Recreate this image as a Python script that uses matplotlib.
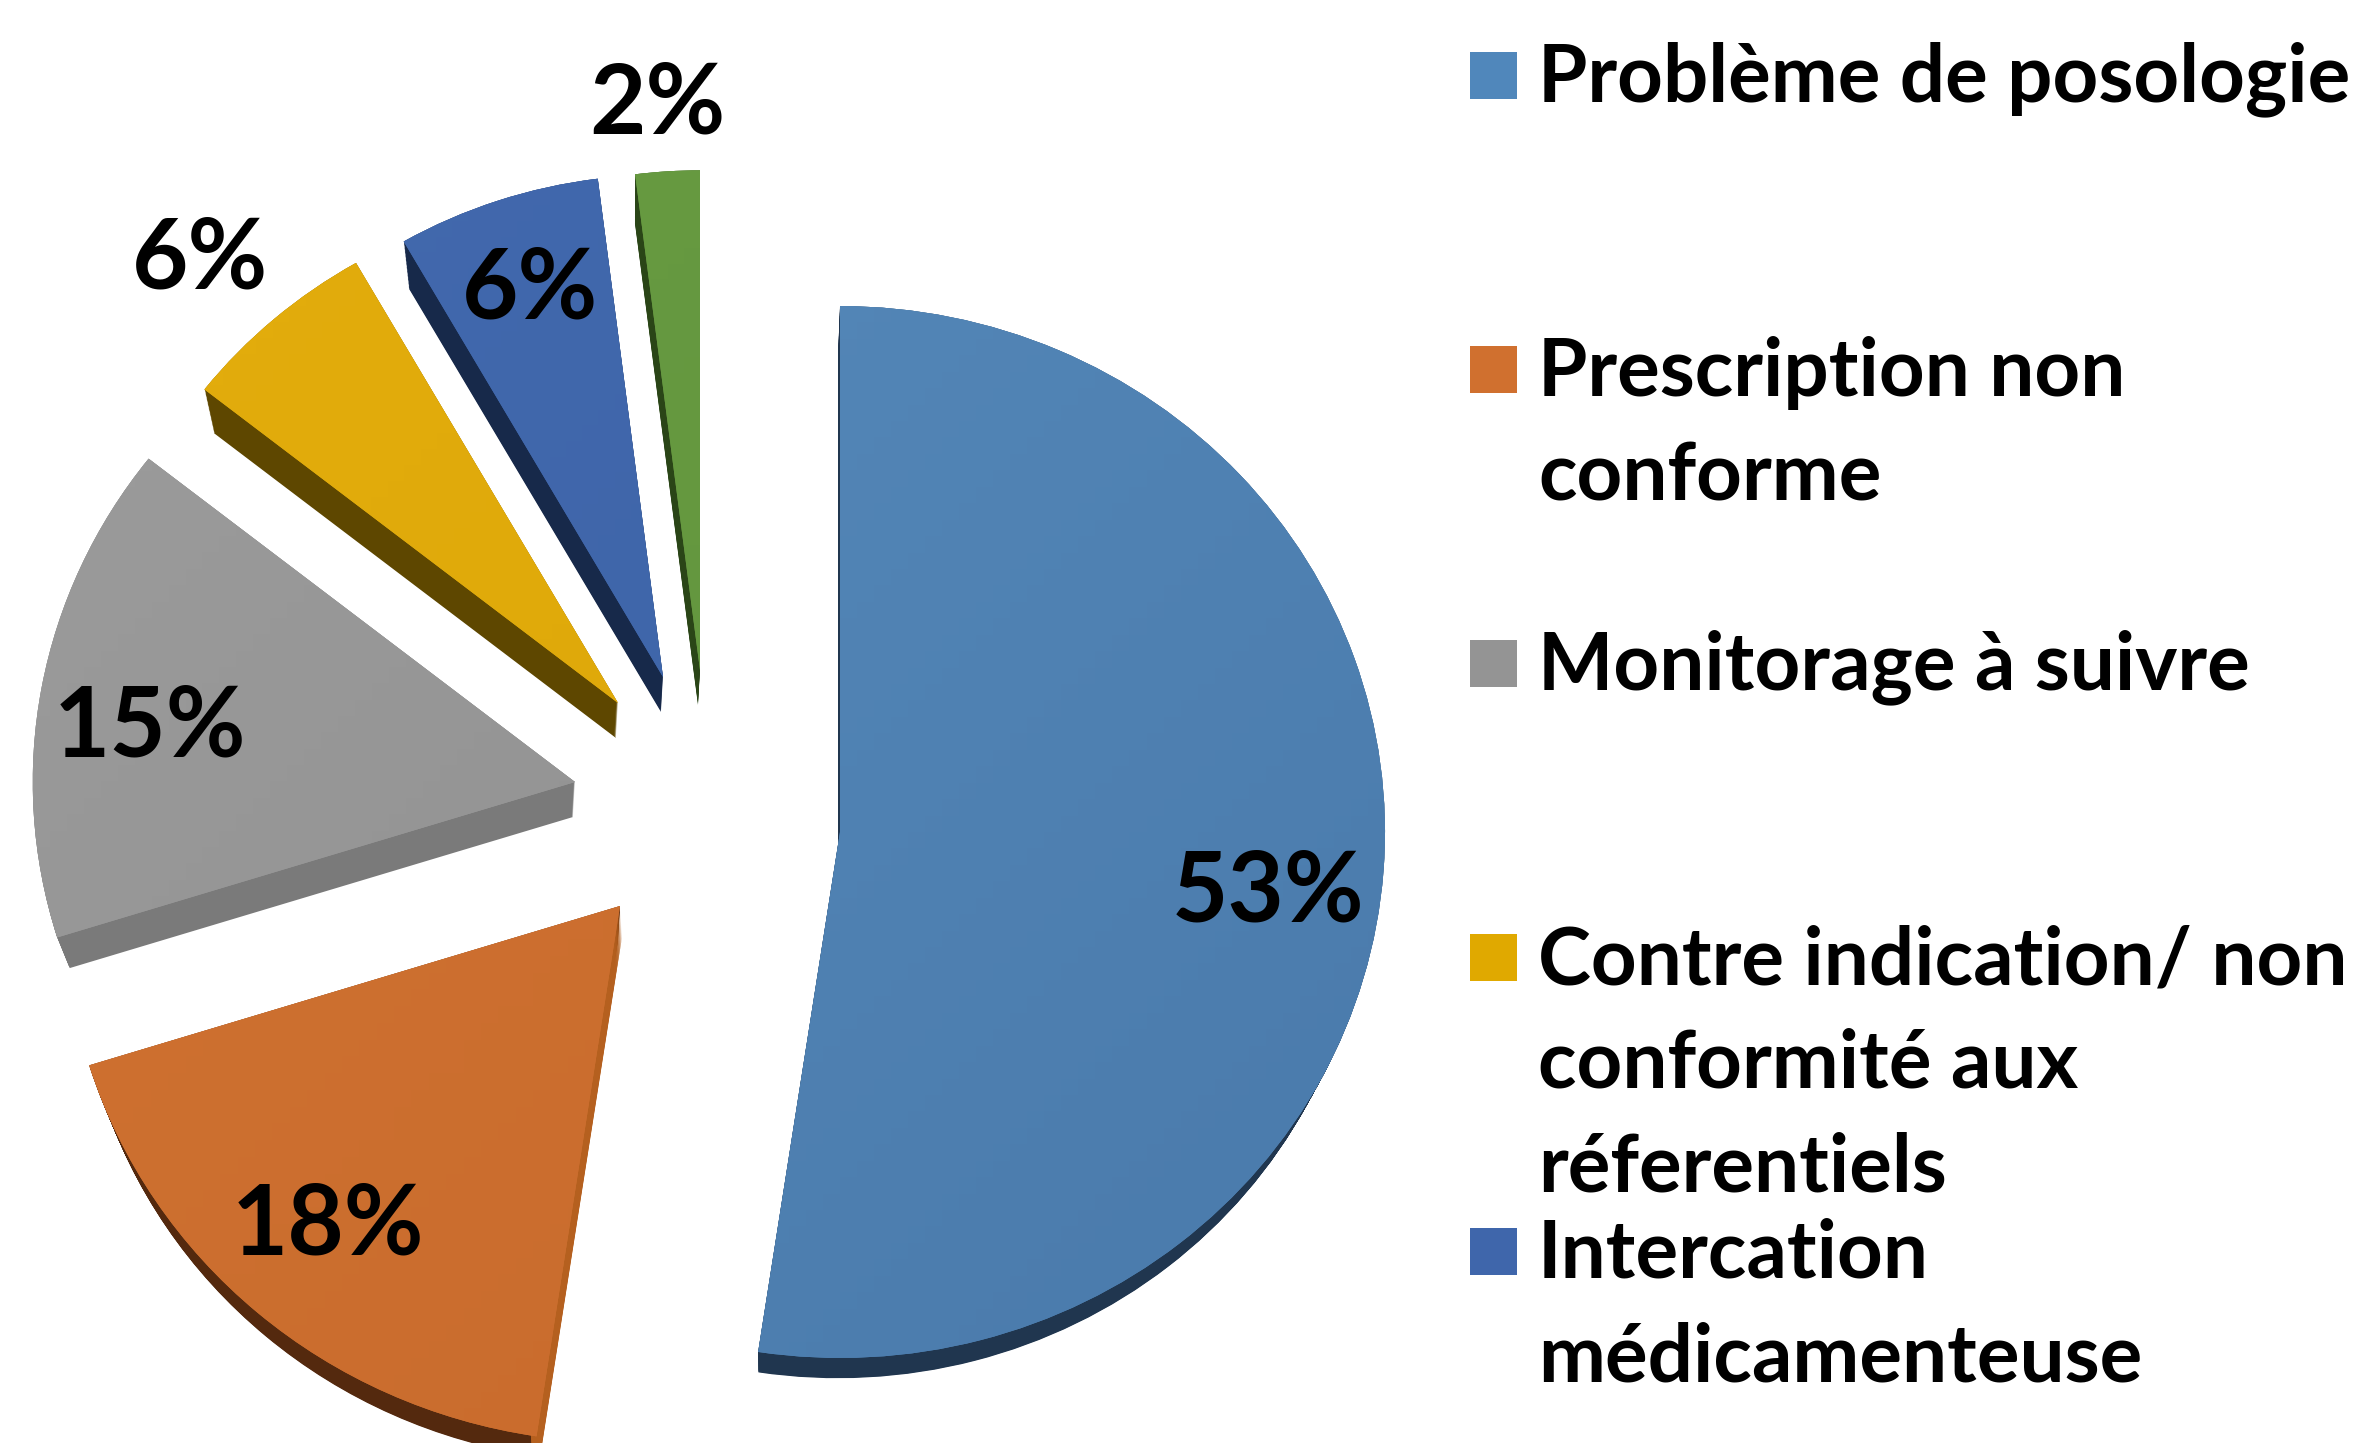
#!/usr/bin/env python3

import numpy as np
import matplotlib
matplotlib.use('Agg')
import matplotlib.pyplot as plt
from matplotlib.colors import LinearSegmentedColormap
from matplotlib.patches import Rectangle, Wedge

W, H = 2359, 1443
Y_SQUASH = 0.965  # the pie is seen slightly from above

categories = ['Problème de posologie', 'Prescription non\nconforme', 'Monitorage à suivre',
              'Contre indication/ non\nconformité aux\nréferentiels', 'Intercation\nmédicamenteuse']
# slice sizes as drawn in the picture (the printed labels are rounded)
values = [52.4, 17.8, 15.4, 6.1, 6.3, 2.0]
pct_labels = ['53%', '18%', '15%', '6%', '6%', '2%']

# how far each slice is pulled out of the pie, in picture pixels
pull_x = [133, -87, -132, -89, -44, -7]
pull_y = [-12, -86, 38, 117, 143, 150]
radius_scale = [1.0, 1.02, 0.995, 0.965, 0.955, 0.95]
colors_light = ['#5589ba', '#d07332', '#9c9c9c', '#e3ad0d', '#4269ae', '#689b42']
colors_dark = ['#4a7aab', '#c86a2c', '#8e8e8e', '#dca607', '#3d63a6', '#61943c']
colors_depth = ['#20364f', '#54290e', '#7a7a7a', '#5e4700', '#17294a', '#2a4517']
colors_legend = ['#5087bb', '#d0702f', '#949494', '#e0a900', '#3f66ab']

# label positions in picture pixels
label_x = [1268, 328, 150, 530, 200, 657]
label_y = [893, 1226, 728, 290, 260, 105]


def to_data(x, y):
    return x, (H - y) / Y_SQUASH


fig = plt.figure(figsize=(W / 100, H / 100), dpi=100)
ax = fig.add_axes([0, 0, 1, 1])

wedges, _ = ax.pie(values, startangle=90, counterclock=False, radius=545,
                   center=to_data(707, 820), colors=colors_light, frame=True)

DEPTH = 35
for i, w in enumerate(wedges):
    w.set_radius(w.r * radius_scale[i])
    w.set_center((w.center[0] + pull_x[i], w.center[1] + pull_y[i] / Y_SQUASH))
    cx, cy = w.center
    # side of the slice: stacked copies, a little smaller further down
    for d in np.linspace(DEPTH, 0, 36):
        side = Wedge((cx - 2 * d / DEPTH, cy - d / Y_SQUASH), w.r * (1 - 0.028 * d / DEPTH), w.theta1, w.theta2,
                     fc=colors_depth[i], ec='none', zorder=1)
        ax.add_patch(side)
    w.set_zorder(3)
    w.set_edgecolor('none')
    # faint shading of the top face
    cmap = LinearSegmentedColormap.from_list('top', [colors_light[i], colors_dark[i]])
    grad = np.add.outer(np.linspace(0, 1, 64), np.linspace(0, 1, 64)) / 2
    im = ax.imshow(grad, cmap=cmap, extent=[cx - w.r, cx + w.r, cy - w.r, cy + w.r], origin='upper',
                   aspect='auto', zorder=4)
    im.set_clip_path(w)

# orange slice has a lighter cut face
orange = wedges[1]
for d in np.linspace(31, 0, 32):
    ax.add_patch(Wedge((orange.center[0] + 2 * d / 31, orange.center[1] - d / Y_SQUASH), orange.r * 0.97,
                       orange.theta2 - 1, orange.theta2, fc='#b5601f', ec='none', zorder=2))

ax.set_xlim(0, W)
ax.set_ylim(0, H / Y_SQUASH)
ax.set_aspect('auto')
ax.axis('off')

for txt, x, y in zip(pct_labels, label_x, label_y):
    xd, yd = to_data(x, y)
    ax.text(xd, yd, txt, fontsize=70, fontweight='bold', family='Lato', color='black',
            ha='center', va='center', zorder=6)

# legend: entries sit on a regular step, long ones run into the next
for i, (name, col) in enumerate(zip(categories, colors_legend)):
    top = 52 + i * 294
    fig.patches.append(Rectangle((1470 / W, 1 - (top + 47) / H), 47 / W, 47 / H, transform=fig.transFigure,
                                 fc=col, ec='none'))
    for j, line in enumerate(name.split('\n')):
        fig.text(1538 / W, 1 - (top + 27 + j * 104) / H, line, fontsize=57.5, fontweight='bold',
                 family='Lato', va='center', ha='left')

fig.savefig('out.png', dpi=100)
